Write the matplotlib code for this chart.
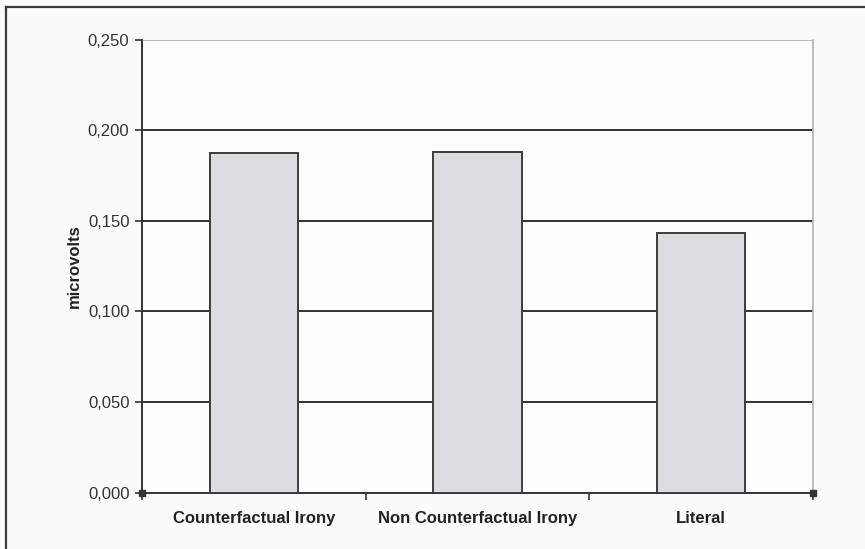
import matplotlib
matplotlib.use("Agg")
import matplotlib.pyplot as plt
from matplotlib.lines import Line2D
from matplotlib.ticker import FuncFormatter, FixedLocator
import numpy as np

categories = ["Counterfactual Irony", "Non Counterfactual Irony", "Literal"]
amplitudes = [0.1876, 0.1881, 0.1434]
y_ticks = [0.0, 0.05, 0.10, 0.15, 0.20, 0.25]

plt.rcParams["font.family"] = ["Liberation Sans", "DejaVu Sans"]

fig = plt.figure(figsize=(8.65, 5.49), dpi=100)
fig.patch.set_facecolor("#fbfbfb")

# outer frame (left and top edges only)
fig.add_artist(Line2D([6 / 865, 6 / 865], [0, 1 - 7 / 549],
                      transform=fig.transFigure, color="#3a3a3a", lw=1.6))
fig.add_artist(Line2D([6 / 865, 1], [1 - 7 / 549, 1 - 7 / 549],
                      transform=fig.transFigure, color="#3a3a3a", lw=1.6))

ax = fig.add_axes([142 / 865, 1 - 492.7 / 549, (812.7 - 142) / 865, (492.7 - 39.5) / 549])
ax.set_facecolor("#fdfdfd")

x = np.arange(len(categories))
ax.bar(x, amplitudes, width=0.395, color="#dcdde0", edgecolor="#3c3c3c",
       linewidth=1.4, zorder=3)

ax.set_xlim(-0.5, len(categories) - 0.5)
ax.set_ylim(0, 0.25)

ax.yaxis.set_major_locator(FixedLocator(y_ticks))
ax.yaxis.set_major_formatter(FuncFormatter(lambda v, _: f"{v:.3f}".replace(".", ",")))
for v in y_ticks[1:-1]:
    ax.axhline(v, color="#333333", lw=1.4, zorder=1)
ax.axhline(0.25, color="#a8a8a8", lw=1.2, zorder=1)

ax.set_xticks(x)
ax.set_xticklabels(categories, fontsize=12, fontweight="bold", color="#222222")
ax.set_xticks(np.arange(-0.5, len(categories)), minor=True)
ax.tick_params(axis="x", which="major", length=0, pad=13)
ax.tick_params(axis="x", which="minor", length=5, width=1.2, color="#333333", direction="out")
ax.tick_params(axis="y", length=5, width=1.2, color="#333333", direction="out",
               labelsize=12, labelcolor="#333333", pad=4)

ax.set_ylabel("microvolts", fontsize=12, fontweight="bold", color="#222222", labelpad=4)

ax.spines["top"].set_visible(False)
ax.spines["left"].set_color("#333333")
ax.spines["left"].set_linewidth(1.4)
ax.spines["bottom"].set_color("#333333")
ax.spines["bottom"].set_linewidth(1.4)
ax.spines["right"].set_color("#b0b0b0")
ax.spines["right"].set_linewidth(1.2)

# small handles at both ends of the category axis
ax.plot([-0.5, len(categories) - 0.5], [0, 0], ls="none", marker="s", ms=4,
        color="#333333", clip_on=False, zorder=5)

fig.savefig("out.png", dpi=100, facecolor=fig.get_facecolor())
